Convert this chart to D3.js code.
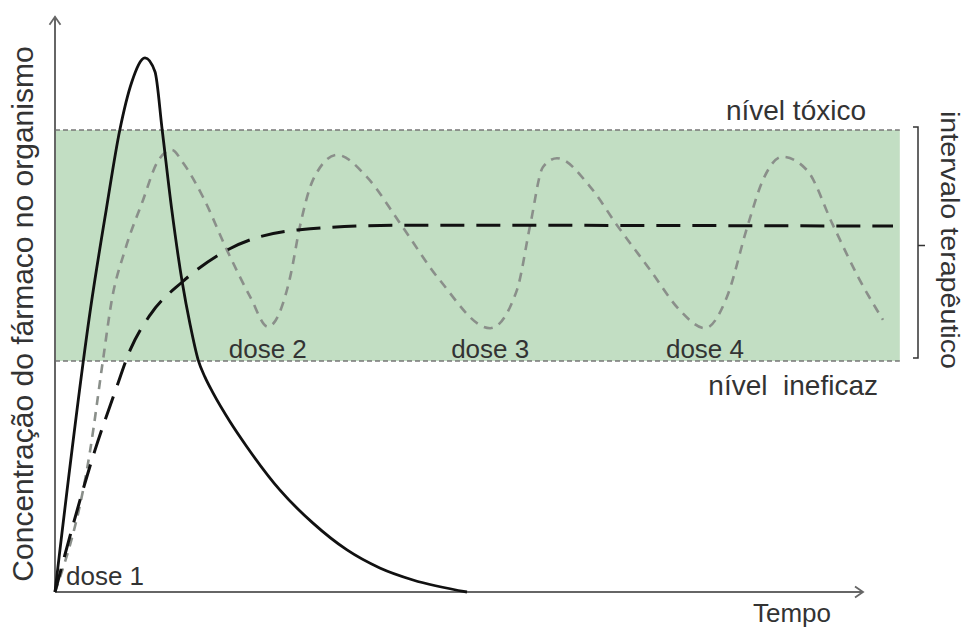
<!DOCTYPE html>
<html>
<head>
<meta charset="utf-8">
<script src="https://cdn.jsdelivr.net/npm/d3@7"></script>
<style>
  body { margin: 0; background: #fff; }
  text { font-family: "Liberation Sans", Arial, sans-serif; fill: #333; }
</style>
</head>
<body>
<div id="chart"></div>
<script>
// levels of the therapeutic window
var toxicLevel = 100,
    ineffectiveLevel = 50,
    windowEnd = 105.6;

// single large dose (solid line)
var singleT = [0, 4.6, 6.4, 8.1, 9.6, 11.25, 12.5, 13.4, 14.6, 15.9, 16.9, 17.9, 18.75, 19.75, 21.9, 24, 28.1, 32.25, 36.5, 40.6, 44.75, 51.5];
var singleC = [0, 63.2, 82.7, 100, 110.4, 115.6, 112.6, 100, 82.7, 67.1, 57.8, 50.2, 46.5, 43.1, 36.8, 31.4, 22.1, 14.9, 9.1, 5.2, 2.6, 0];

// continuous dosing (long dashes)
var steadyT = [0, 5, 7.5, 9.4, 11.9, 15.9, 21.5, 30.6, 43.1, 104.75];
var steadyC = [0, 30.7, 43.3, 52.4, 60.0, 67.1, 74, 78.4, 79.4, 79.2];

// repeated doses (grey dashes)
var repeatT = [0, 4.4, 6.0, 7.1, 8.75, 11.0, 12.75, 14.6, 16.0, 18.5, 21.5, 24.4, 26.6, 29.4, 30.6, 32.25, 35.25, 39.0, 43.1, 48.1, 54.4, 57.75, 59.4, 61.0, 62.75, 66.9, 70.25, 74.4, 78.1, 81.25, 84.0, 86.6, 88.5, 90.9, 94.0, 97.25, 100.6, 103.5];
var repeatC = [0, 30.7, 50.2, 63.2, 74.0, 84.8, 92.9, 95.7, 92.9, 85.5, 74.0, 63.9, 57.4, 68.2, 79.0, 89.2, 94.6, 89.8, 79.9, 67.5, 57.1, 65.4, 79.4, 92.0, 93.9, 87.7, 79.4, 69.7, 61.0, 57.1, 63.9, 79.4, 89.2, 94.2, 91.3, 79.4, 67.5, 58.9];

var doseLabels = ["dose 1", "dose 2", "dose 3", "dose 4"];
var doseTimes = [0, 26.6, 54.4, 81.25];

var width = 966, height = 630;

var svg = d3.select("#chart")
  .append("svg")
    .attr("width", width)
    .attr("height", height);

var x = d3.scaleLinear().domain([0, 100]).range([55, 855]);
var y = d3.scaleLinear().domain([0, 100]).range([592, 130]);

// arrow head for the axes
svg.append("defs").append("marker")
    .attr("id", "arrow")
    .attr("markerUnits", "userSpaceOnUse")
    .attr("viewBox", "-10 -7 12 14")
    .attr("markerWidth", 12)
    .attr("markerHeight", 14)
    .attr("refX", 0)
    .attr("refY", 0)
    .attr("orient", "auto")
  .append("path")
    .attr("d", "M-8,-5.5L0,0L-8,5.5")
    .attr("fill", "none")
    .attr("stroke", "#666")
    .attr("stroke-width", 1.8);

// therapeutic window
svg.append("rect")
    .attr("x", x(0))
    .attr("y", y(toxicLevel))
    .attr("width", x(windowEnd) - x(0))
    .attr("height", y(ineffectiveLevel) - y(toxicLevel))
    .attr("fill", "#c2dec3");

[toxicLevel, ineffectiveLevel].forEach(function(l) {
  svg.append("line")
      .attr("x1", x(0)).attr("x2", x(windowEnd))
      .attr("y1", y(l)).attr("y2", y(l))
      .attr("stroke", "#777")
      .attr("stroke-width", 1.5)
      .attr("stroke-dasharray", "5,3");
});

// axes
svg.append("line")
    .attr("x1", x(0)).attr("y1", y(0))
    .attr("x2", x(0)).attr("y2", y(124.5))
    .attr("stroke", "#666").attr("stroke-width", 2)
    .attr("marker-end", "url(#arrow)");
svg.append("line")
    .attr("x1", x(0)).attr("y1", y(0))
    .attr("x2", x(101)).attr("y2", y(0))
    .attr("stroke", "#666").attr("stroke-width", 2)
    .attr("marker-end", "url(#arrow)");

var line = d3.line()
    .x(function(d) { return x(d[0]); })
    .y(function(d) { return y(d[1]); })
    .curve(d3.curveMonotoneX);

svg.append("path")
    .datum(d3.zip(repeatT, repeatC))
    .attr("d", line)
    .attr("fill", "none")
    .attr("stroke", "#8a8f8a")
    .attr("stroke-width", 2.6)
    .attr("stroke-dasharray", "9,7");

svg.append("path")
    .datum(d3.zip(steadyT, steadyC))
    .attr("d", line)
    .attr("fill", "none")
    .attr("stroke", "#111")
    .attr("stroke-width", 3)
    .attr("stroke-dasharray", "24,12");

svg.append("path")
    .datum(d3.zip(singleT, singleC))
    .attr("d", line)
    .attr("fill", "none")
    .attr("stroke", "#111")
    .attr("stroke-width", 2.8);

// bracket for the window
var bx = 918;
svg.append("path")
    .attr("d", "M" + (bx - 5) + "," + (y(toxicLevel) - 3) + "H" + bx +
               "V" + (y(ineffectiveLevel) - 3) + "H" + (bx - 5) +
               "M" + bx + "," + y((toxicLevel + ineffectiveLevel) / 2) + "H" + (bx + 7))
    .attr("fill", "none")
    .attr("stroke", "#333")
    .attr("stroke-width", 1.5);

// labels
svg.selectAll(".dose")
  .data(doseLabels)
  .enter()
  .append("text")
    .attr("class", "dose")
    .attr("x", function(d, i) { return i == 0 ? x(doseTimes[i]) + 11 : x(doseTimes[i]); })
    .attr("y", function(d, i) { return i == 0 ? 585 : y(ineffectiveLevel) - 3; })
    .attr("text-anchor", function(d, i) { return i == 0 ? "start" : "middle"; })
    .attr("font-size", 26)
    .text(function(d) { return d; });

svg.append("text")
    .attr("x", 866)
    .attr("y", y(toxicLevel) - 10)
    .attr("text-anchor", "end")
    .attr("font-size", 28)
    .text("nível tóxico");

svg.append("text")
    .attr("x", 878)
    .attr("y", y(ineffectiveLevel) + 34)
    .attr("text-anchor", "end")
    .attr("font-size", 28)
    .text("nível\u00a0 ineficaz");

svg.append("text")
    .attr("x", 753)
    .attr("y", 622)
    .attr("font-size", 26)
    .text("Tempo");

svg.append("text")
    .attr("transform", "translate(33,314) rotate(-90)")
    .attr("text-anchor", "middle")
    .attr("font-size", 30)
    .text("Concentração do fármaco no organismo");

svg.append("text")
    .attr("transform", "translate(941,240) rotate(90)")
    .attr("text-anchor", "middle")
    .attr("font-size", 25)
    .attr("textLength", 258)
    .attr("lengthAdjust", "spacingAndGlyphs")
    .text("intervalo terapêutico");
</script>
</body>
</html>
